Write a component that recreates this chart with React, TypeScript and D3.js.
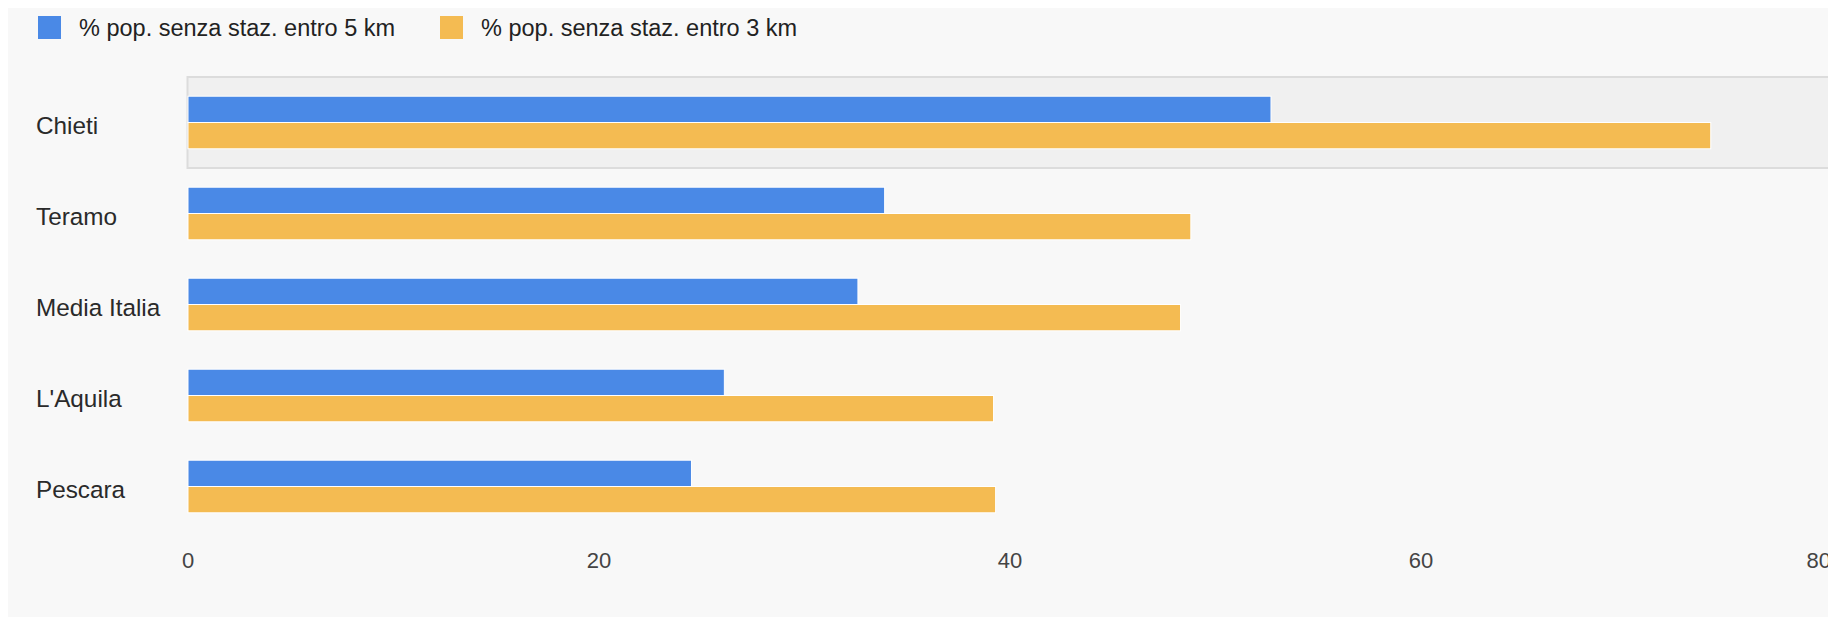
import React from "react";
import * as d3 from "d3";

const categories = ["Chieti", "Teramo", "Media Italia", "L'Aquila", "Pescara"];
const seriesNames = ["% pop. senza staz. entro 5 km", "% pop. senza staz. entro 3 km"];
const within5km = [52.7, 33.9, 32.6, 26.1, 24.5];
const within3km = [74.1, 48.8, 48.3, 39.2, 39.3];
const xTicks = [0, 20, 40, 60, 80];
const colors = ["#4a89e6", "#f4bb52"];
const highlighted = "Chieti";

const W = 1828;
const H = 609;
const FONT = "'Liberation Sans', Arial, sans-serif";

export default function App() {
  // svg placed at (8,8) by body margin; coordinates below are svg-local
  const off = 8;
  const x = d3.scaleLinear().domain([0, 80]).range([188 - off, 1832 - off]);
  const y = d3
    .scaleBand<string>()
    .domain(categories)
    .range([77 - off, 532 - off])
    .paddingInner(0)
    .paddingOuter(0);
  const groupH = 52.6;
  const sub = d3
    .scaleBand<number>()
    .domain([0, 1])
    .range([0, groupH]);
  const series = [within5km, within3km];
  const lastTick = xTicks[xTicks.length - 1];

  return (
    <>
      <style>{`body{overflow:hidden}`}</style>
      <svg width={W} height={H} style={{ display: "block", background: "#f8f8f8" }} fontFamily={FONT}>
        {/* legend */}
        {seriesNames.map((name, i) => {
          const lx = [38 - off, 440 - off][i];
          return (
            <g key={name}>
              <rect x={lx} y={16 - off} width={23} height={23} fill={colors[i]} />
              <text x={lx + 41} y={28 - off} dy="0.35em" fontSize={23.5} fill="#222">
                {name}
              </text>
            </g>
          );
        })}
        {/* highlight box */}
        <rect
          x={x(0) - 0.5}
          y={y(highlighted) as number}
          width={x(80) - x(0) + 1.5}
          height={y.bandwidth()}
          fill="#f0f0f0"
          stroke="#dcdcdc"
          strokeWidth={2}
        />
        {/* bars */}
        {categories.map((c, ci) => {
          const g0 = (y(c) as number) + (y.bandwidth() - groupH) / 2;
          return (
            <g key={c}>
              {series.map((s, si) => (
                <rect
                  key={si}
                  x={x(0)}
                  y={g0 + (sub(si) as number)}
                  width={x(s[ci]) - x(0)}
                  height={sub.bandwidth()}
                  fill={colors[si]}
                  stroke="#ffffff"
                  strokeWidth={1}
                />
              ))}
              <text
                x={36 - off}
                y={(y(c) as number) + y.bandwidth() / 2 + 2.5}
                dy="0.35em"
                fontSize={24.3}
                fill="#2a2a2a"
              >
                {c}
              </text>
            </g>
          );
        })}
        {/* x tick labels */}
        {xTicks.map((t) => (
          <text
            key={t}
            x={t === lastTick ? x(t) - 1 : x(t)}
            y={560 - off}
            dy="0.35em"
            textAnchor={t === lastTick ? "end" : "middle"}
            fontSize={22}
            fill="#444"
          >
            {t}
          </text>
        ))}
      </svg>
    </>
  );
}
